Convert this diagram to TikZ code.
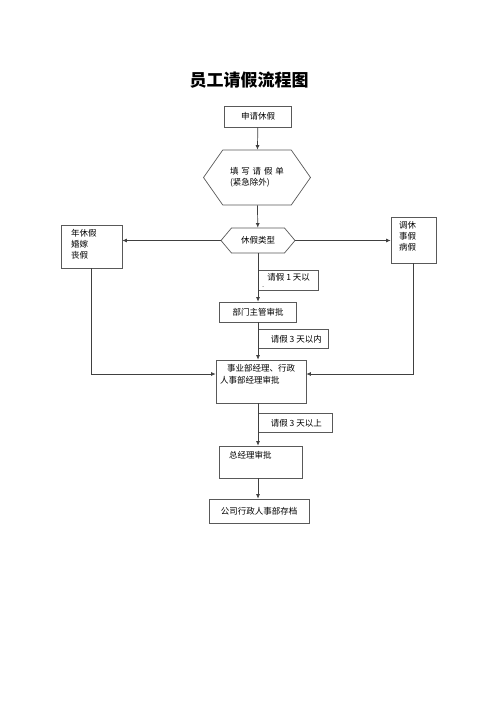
\documentclass[tikz,border=0pt]{standalone}
\usepackage{fontspec}
\setmainfont{Noto Sans CJK SC}
\usetikzlibrary{shapes.symbols,arrows.meta}

\begin{document}
\begin{tikzpicture}[x=1pt, y=-1pt, line width=0.7pt,
    every node/.style={font=\fontsize{8.5}{11}\selectfont, inner sep=0pt},
    box/.style={draw=black!65, line width=0.7pt},
    hexa/.style={draw=black!65, line width=0.7pt, signal, signal to=west and east},
    tag/.style={draw=black!65, line width=0.7pt, anchor=north west},
    arr/.style={draw=black!75, -{Latex[length=4.5pt,width=4pt]}}]
    \useasboundingbox (0,0) rectangle (500,707);

    % title
    \node[font=\fontsize{17}{20}\selectfont\bfseries] (title) at (249,80) {员工请假流程图};

    % main column
    \node[box, minimum width=67, minimum height=21] (apply) at (258,116.5) {申请休假};
    \node[hexa, minimum width=107, minimum height=55, signal pointer angle=110, align=left] (form) at (257,177.5)
      {填\,\,写\,\,请\,\,假\,\,单\\(紧急除外)};
    \node[hexa, minimum width=74, minimum height=25, signal pointer angle=100] (type) at (258,240.5) {休假类型};
    \node[box, minimum width=77, minimum height=20] (dept) at (258,312) {部门主管审批};
    \node[box] (div) at (261,381.5)
      {\parbox[t][43pt][t]{90pt}{\vspace{4pt}\hspace{11pt}事业部经理、行政\\[1pt]\hspace*{4pt}人事部经理审批}};
    \node[box] (gm) at (260.5,462)
      {\parbox[t][32pt][t]{83pt}{\vspace{5pt}\hspace*{10pt}总经理审批}};
    \node[box, minimum width=100, minimum height=24] (arch) at (259,511) {公司行政人事部存档};

    % side boxes
    \node[box] (left) at (91.5,246.5)
      {\parbox[t][43pt][t]{61pt}{\vspace{4pt}\hspace*{10pt}年休假\\\hspace*{10pt}婚嫁\\\hspace*{10pt}丧假}};
    \node[box] (right) at (413.5,240)
      {\parbox[t][46pt][t]{45pt}{\vspace{4pt}\hspace*{8pt}调休\\\hspace*{8pt}事假\\\hspace*{8pt}病假}};

    % condition tags
    \node[tag] (one) at (258,270)
      {\parbox[t][20pt][t]{60pt}{\vspace{3pt}\hspace*{9pt}请假\ 1\ 天以\\[-3pt]\hspace*{4pt}{\tiny -}}};
    \node[tag, minimum width=70, minimum height=19] (three) at (258,329) {\hspace*{6pt}请假 3 天以内};
    \node[tag, minimum width=74, minimum height=19] (over) at (258,413) {\hspace*{2pt}请假 3 天以上};

    % connectors
    \draw[arr] (apply) -- (form);
    \draw[arr] (form) -- (type);
    \draw[arr] (type.south) -- (dept.north);
    \draw[arr] (dept.south) -- (div.north -| dept.south);
    \draw[arr] (div.south -| dept.south) -- (gm.north -| dept.south);
    \draw[arr] (gm.south -| dept.south) -- (arch.north -| dept.south);
    \draw[arr] (type.west) -- (type.west -| left.east);
    \draw[arr] (type.east) -- (type.east -| right.west);
    \draw[arr] (left.south) |- ([yshift=7.5]div.west);
    \draw[arr] (right.south) |- ([yshift=7.5]div.east);
  \end{tikzpicture}
\end{document}
